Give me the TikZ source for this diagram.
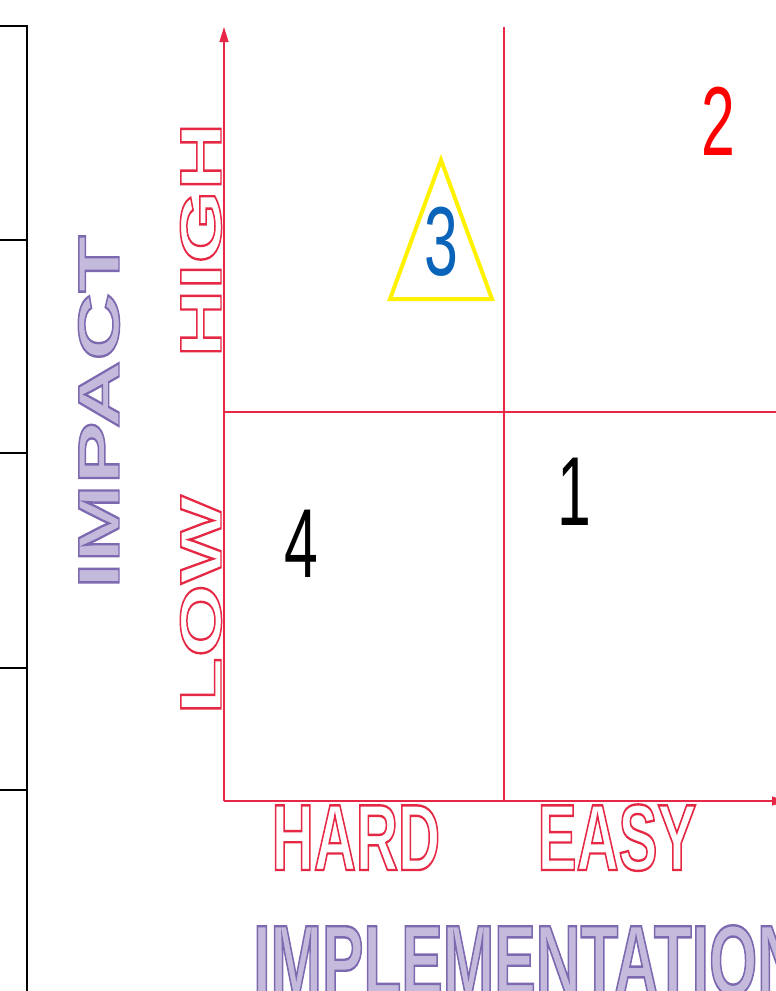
\documentclass[tikz,border=0pt]{standalone}
\usepackage{fontspec}
\setmainfont{Liberation Sans}
\usepackage{graphicx}
\usepackage{tikz}
\usetikzlibrary{positioning,arrows.meta}
\definecolor{axisred}{RGB}{230,40,70}
\definecolor{lavfill}{RGB}{196,186,220}
\definecolor{lavline}{RGB}{125,105,175}
\definecolor{numblue}{RGB}{10,100,185}
\newcommand{\hsq}[1]{\scalebox{0.62}[1]{#1}}
\newcommand{\vsq}[1]{\scalebox{1}[0.62]{#1}}
% outline text: #1 stroke colour (rgb), #2 render mode, #3 text
\newcommand{\outl}[3]{\special{pdf:literal direct #1 RG 2.4 w #2 Tr}#3\special{pdf:literal direct 0 Tr}}

\begin{document}
\begin{tikzpicture}[
  x=1pt,y=-1pt,
  big/.style={font=\fontsize{94}{94}\selectfont\bfseries,inner sep=0pt,anchor=base},
  level/.style={big,text=axisred},
  axlabel/.style={big,text=lavfill},
  num/.style={font=\fontsize{98}{98}\selectfont,inner sep=0pt,anchor=base},
  ax/.style={draw=axisred,line width=1.3pt},
  arr/.style={ax,-{Triangle[length=15pt,width=9pt]}},
  tbl/.style={draw=black,line width=1.4pt},
]
\useasboundingbox (0,0) rectangle (776,991);
% table edge on the left
\draw[tbl] (-5,26) -- (27,26) -- (27,995);
\foreach \y in {240,453,668,790}
  \draw[tbl] (-5,\y) -- (27,\y);
% axes and grid
\coordinate (o) at (224,801);
\coordinate (ytop) at (224,27);
\coordinate (xend) at (787,801);
\coordinate (midtop) at (504,27);
\coordinate (midbot) at (504,801);
\coordinate (midl) at (224,412);
\coordinate (midr) at (780,412);
\draw[ax] (midtop) -- (midbot);
\draw[ax] (midl) -- (midr);
\draw[arr] (o) -- (ytop);
\draw[arr] (o) -- (xend);
% axis words
\node[level,rotate=90] (high) at (221,240) {\vsq{\outl{0.9 0.16 0.27}{1}{HIGH}}};
\node[level,rotate=90] (low) at (221,605) {\vsq{\outl{0.9 0.16 0.27}{1}{LOW}}};
\node[level] (hard) at (356,870) {\hsq{\outl{0.9 0.16 0.27}{1}{HARD}}};
\node[level] (easy) at (617,870) {\hsq{\outl{0.9 0.16 0.27}{1}{EASY}}};
\node[axlabel,rotate=90] (impact) at (119,412) {\vsq{\outl{0.49 0.41 0.69}{2}{IMPACT}}};
\node[axlabel,anchor=base west,font=\fontsize{100}{100}\selectfont\bfseries] (impl) at (253,995) {\hsq{\outl{0.49 0.41 0.69}{2}{IMPLEMENTATION}}};
% quadrant numbers
\node[num,text=red] (q2) at (718,155) {\hsq{2}};
\node[num,text=numblue] (q3) at (441,275) {\hsq{3}};
\node[num] (q1) at (574,525) {\hsq{1}};
\node[num] (q4) at (301,577) {\hsq{4}};
\draw[yellow,line width=4pt,line join=miter] (441,160) -- (390,299) -- (492,299) -- cycle;
\end{tikzpicture}
\end{document}
